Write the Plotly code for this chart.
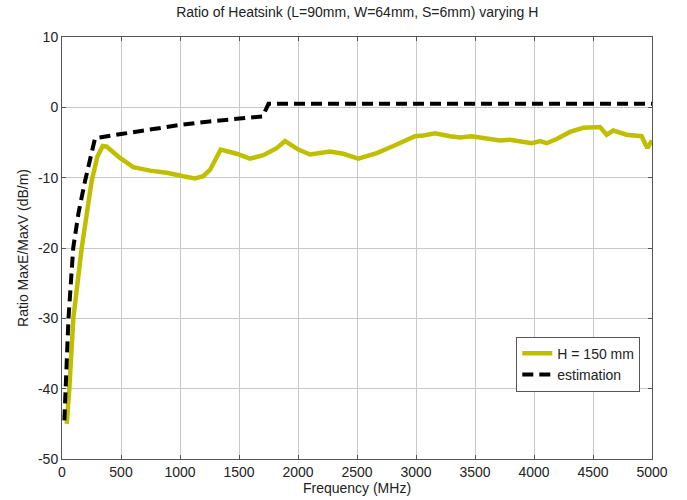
import plotly.graph_objects as go

# Measured field ratio for H = 150 mm
freq_h150 = [40, 62, 96, 167, 251, 300, 345, 380, 491, 604, 746, 887, 1028, 1127, 1197,
             1254, 1345, 1480, 1593, 1706, 1819, 1890, 2003, 2102, 2271, 2384, 2511,
             2667, 2808, 2992, 3062, 3161, 3288, 3373, 3472, 3570, 3712, 3797, 3881,
             3980, 4051, 4107, 4192, 4305, 4418, 4559, 4616, 4672, 4785, 4912, 4960, 5000]
ratio_h150 = [-45.0, -40.0, -30.0, -20.0, -10.5, -7.0, -5.5, -5.6, -7.2, -8.5, -9.0, -9.3,
              -9.8, -10.1, -9.8, -8.9, -6.0, -6.6, -7.3, -6.8, -5.8, -4.8, -6.0, -6.7,
              -6.3, -6.6, -7.3, -6.5, -5.5, -4.1, -4.0, -3.7, -4.1, -4.3, -4.1, -4.4,
              -4.7, -4.6, -4.9, -5.1, -4.8, -5.1, -4.5, -3.5, -2.9, -2.8, -3.9, -3.3,
              -3.9, -4.1, -5.8, -4.7]

# Estimated upper bound
freq_est = [20, 30, 55, 95, 140, 195, 240, 280, 500, 750, 1000, 1250, 1500, 1700, 1750, 5000]
ratio_est = [-44.5, -40.0, -30.0, -20.0, -15.0, -10.5, -7.0, -4.4, -3.8, -3.1, -2.5,
             -2.0, -1.6, -1.3, 0.5, 0.5]

x_ticks = [0, 500, 1000, 1500, 2000, 2500, 3000, 3500, 4000, 4500, 5000]
y_ticks = [-50, -40, -30, -20, -10, 0, 10]

font_family = "Liberation Sans, Arial, sans-serif"

fig = go.Figure()
fig.add_trace(go.Scatter(x=freq_h150, y=ratio_h150, mode="lines", name="H = 150 mm",
                         line=dict(color="#bfbf00", width=4.5)))
fig.add_trace(go.Scatter(x=freq_est, y=ratio_est, mode="lines", name="estimation",
                         line=dict(color="black", width=4, dash="11px,6px")))

axis_common = dict(showline=True, linecolor="#555555", linewidth=1, mirror="ticks",
                   showgrid=True, gridcolor="#c8c8c8", gridwidth=1, zeroline=False,
                   ticks="inside", ticklen=4, tickcolor="#555555", automargin=False,
                   tickfont=dict(family=font_family, size=14, color="#222222"))

fig.update_xaxes(range=[0, 5000], tickvals=x_ticks, ticktext=[str(v) for v in x_ticks],
                 title=dict(text="Frequency (MHz)", standoff=2,
                            font=dict(family=font_family, size=14, color="#222222")),
                 **axis_common)
fig.update_yaxes(range=[-50, 10], tickvals=y_ticks, ticktext=[str(v) for v in y_ticks],
                 title=dict(text="Ratio MaxE/MaxV (dB/m)", standoff=6,
                            font=dict(family=font_family, size=14, color="#222222")),
                 **axis_common)

fig.update_layout(
    width=687, height=500,
    margin=dict(l=62, r=35, t=37, b=41, autoexpand=False),
    paper_bgcolor="white", plot_bgcolor="white",
    title=dict(text="Ratio of Heatsink (L=90mm, W=64mm, S=6mm) varying H",
               x=0.52, xanchor="center", y=0.975, yanchor="middle",
               font=dict(family=font_family, size=14, color="#222222")),
    legend=dict(x=0.77, y=0.29, xanchor="left", yanchor="top",
                bgcolor="white", bordercolor="#555555", borderwidth=1,
                font=dict(family=font_family, size=14, color="#222222"),
                itemwidth=30, tracegroupgap=0),
    showlegend=True,
)

fig.write_html("out.html")
